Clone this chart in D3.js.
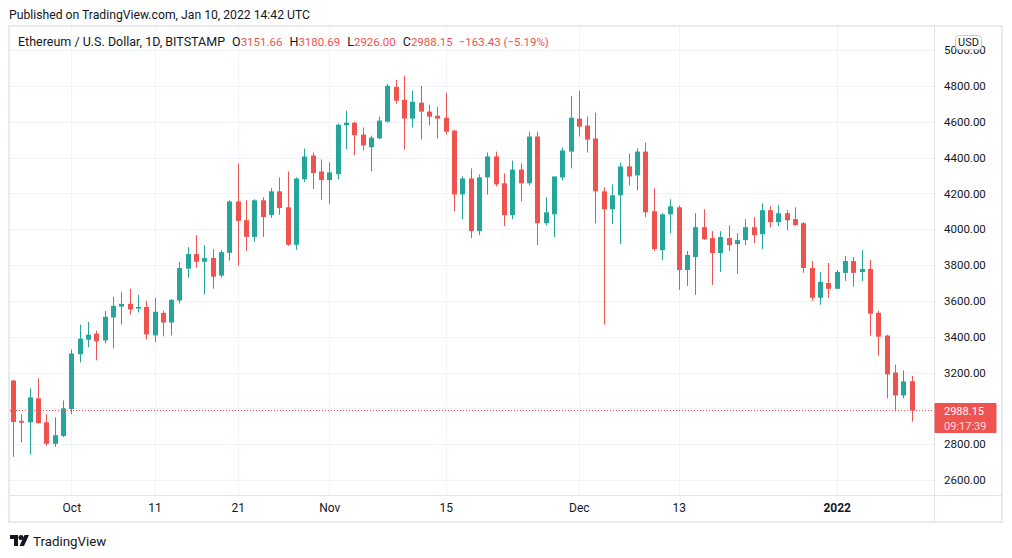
<!DOCTYPE html>
<html>
<head>
<meta charset="utf-8">
<script src="https://cdn.jsdelivr.net/npm/d3@7"></script>
<style>
  body { margin: 0; background: #fff; }
  svg { display: block; font-family: Roboto, "Noto Sans", sans-serif; }
</style>
</head>
<body>
<script>
// ETH/USD daily candles, Sep 24 2021 -> Jan 10 2022
var startDate = "2021-09-24";
var opens = [3155,2930,2922,3056,2922,2802,2846,
  2996,3302,3383,3417,3379,3507,3568,3583,3557,3566,3407,3533,3479,3602,3780,3861,3818,3839,3741,3868,4155,4050,3957,4161,4079,4211,4122,3913,4279,4411,4322,
  4274,4307,4580,4594,4528,4457,4507,4600,4794,4722,4617,4706,4656,4633,4622,4550,4194,4283,3989,4289,4406,4256,4078,4333,4256,4517,4033,4083,4289,4433,
  4617,4578,4506,4211,4111,4189,4350,4300,4433,4100,3883,4083,4122,3772,3844,4011,3950,3867,3950,3917,3939,4011,3972,4106,4039,4089,4056,4033,3783,3617,3700,
  3667,3756,3822,3761,3778,3533,3406,3200,3072,3151.66];
var highs = [3160,2967,3111,3167,2967,2950,3044,
  3328,3467,3483,3433,3544,3622,3650,3667,3633,3600,3617,3544,3610,3817,3900,3967,3911,3889,3883,4161,4367,4161,4167,4178,4228,4289,4322,4289,4450,4428,4389,
  4372,4589,4661,4600,4568,4522,4628,4811,4833,4856,4772,4800,4694,4683,4761,4555,4294,4339,4306,4428,4433,4311,4383,4367,4544,4544,4178,4294,4456,4744,
  4772,4628,4650,4233,4250,4372,4422,4450,4483,4228,4089,4167,4133,3878,4089,4111,3989,3989,4022,3978,4056,4067,4144,4128,4133,4106,4122,4040,3822,3761,3811,
  3772,3850,3844,3883,3828,3544,3411,3244,3211,3180.69];
var lows = [2729,2810,2741,2915,2791,2785,2840,
  2968,3257,3341,3268,3363,3335,3468,3524,3535,3385,3368,3402,3407,3585,3729,3785,3635,3668,3730,3824,3796,3879,3930,3957,4063,4079,3907,3885,4263,4224,4163,
  4141,4279,4446,4413,4440,4324,4502,4595,4700,4444,4567,4500,4578,4506,4528,4100,4056,3950,3967,4194,4239,4017,4056,4156,4244,3911,4022,3956,4272,4339,
  4517,4428,4033,3467,4028,3917,4244,4217,4067,3878,3828,3978,3661,3683,3633,3940,3689,3761,3878,3750,3911,3922,3889,4011,4017,3994,4020,3756,3600,3578,3617,
  3667,3711,3678,3711,3406,3294,3056,2983,3056,2926];
var closes = [2924,2920,3061,2918,2802,2850,3000,
  3306,3389,3411,3374,3511,3572,3583,3552,3566,3413,3539,3479,3605,3783,3861,3818,3839,3735,3872,4155,4046,3957,4161,4068,4211,4118,3913,4283,4405,4313,4274,
  4317,4583,4594,4524,4468,4511,4606,4800,4717,4617,4711,4656,4628,4617,4544,4194,4283,3989,4289,4406,4250,4078,4333,4256,4517,4033,4094,4294,4439,4622,
  4572,4500,4211,4111,4189,4350,4294,4433,4094,3889,4083,4128,3772,3856,4011,3944,3867,3956,3911,3939,4011,3967,4106,4039,4089,4050,4022,3783,3617,3706,3667,
  3761,3822,3756,3778,3528,3400,3189,3072,3150,2988.15];

// axis ticks
var priceTicks = [2600,2800,3000,3200,3400,3600,3800,4000,4200,4400,4600,4800,5000];
var timeTicks = ["2021-10-01","2021-10-11","2021-10-21","2021-11-01","2021-11-15","2021-12-01","2021-12-13","2022-01-01"];
var timeLabels = ["Oct","11","21","Nov","15","Dec","13","2022"];

var lastPrice = 2988.15;

var W = 1012, H = 558;
var plot = { left: 10, right: 934, top: 27, bottom: 495 };
var green = "#26a69a", red = "#ef5350", ink = "#131722";

var parse = d3.utcParse("%Y-%m-%d");
var t0 = parse(startDate);
var data = opens.map(function(o, i) {
  return { date: d3.utcDay.offset(t0, i), o: o, h: highs[i], l: lows[i], c: closes[i] };
});

var x = d3.scaleUtc()
  .domain([t0, data[data.length - 1].date])
  .range([13.1, 911.6]);

var y = d3.scaleLinear()
  .domain([2600, 5000])
  .range([480, 50]);

var svg = d3.select("body").append("svg")
  .attr("width", W)
  .attr("height", H);

svg.append("rect").attr("width", W).attr("height", H).attr("fill", "#fff");

svg.append("defs").append("clipPath").attr("id", "plotclip")
  .append("rect")
  .attr("x", plot.left).attr("y", plot.top)
  .attr("width", plot.right - plot.left).attr("height", plot.bottom - plot.top);

// header line
svg.append("text")
  .attr("x", 9).attr("y", 19)
  .attr("fill", ink)
  .style("font-size", "12.2px")
  .text("Published on TradingView.com, Jan 10, 2022 14:42 UTC");

// grid
var grid = svg.append("g").attr("clip-path", "url(#plotclip)");
grid.selectAll(".hgrid")
  .data(priceTicks)
  .enter().append("line")
  .attr("x1", plot.left).attr("x2", plot.right)
  .attr("y1", function(d) { return Math.round(y(d)) + 0.5; })
  .attr("y2", function(d) { return Math.round(y(d)) + 0.5; })
  .attr("stroke", "#f0f3fa");
grid.selectAll(".vgrid")
  .data(timeTicks)
  .enter().append("line")
  .attr("y1", plot.top).attr("y2", plot.bottom)
  .attr("x1", function(d) { return Math.round(x(parse(d))) + 0.5; })
  .attr("x2", function(d) { return Math.round(x(parse(d))) + 0.5; })
  .attr("stroke", "#f0f3fa");

// candles
var candles = svg.append("g").attr("clip-path", "url(#plotclip)");
var bw = 5;
var cg = candles.selectAll(".candle")
  .data(data)
  .enter().append("g");
cg.append("line")
  .attr("x1", function(d) { return Math.round(x(d.date)) + 0.5; })
  .attr("x2", function(d) { return Math.round(x(d.date)) + 0.5; })
  .attr("y1", function(d) { return y(d.h); })
  .attr("y2", function(d) { return y(d.l); })
  .attr("stroke", function(d) { return d.c >= d.o ? green : red; })
  .attr("stroke-width", 1);
cg.append("rect")
  .attr("x", function(d) { return Math.round(x(d.date)) + 0.5 - bw / 2; })
  .attr("width", bw)
  .attr("y", function(d) { return y(Math.max(d.o, d.c)); })
  .attr("height", function(d) { return Math.max(1, Math.abs(y(d.o) - y(d.c))); })
  .attr("fill", function(d) { return d.c >= d.o ? green : red; });

// last price dotted line
svg.append("line")
  .attr("x1", plot.left).attr("x2", plot.right)
  .attr("y1", y(lastPrice)).attr("y2", y(lastPrice))
  .attr("stroke", red)
  .attr("stroke-width", 1)
  .attr("stroke-dasharray", "1,2");

// frame and axis separators
svg.append("rect")
  .attr("x", 9).attr("y", 26)
  .attr("width", 993).attr("height", 496)
  .attr("fill", "none")
  .attr("stroke", "#e9ebf0")
  .attr("stroke-width", 2);
svg.append("line")
  .attr("x1", plot.right + 0.5).attr("x2", plot.right + 0.5)
  .attr("y1", 26).attr("y2", 522)
  .attr("stroke", "#e0e3eb");
svg.append("line")
  .attr("x1", 9).attr("x2", 1002)
  .attr("y1", plot.bottom + 0.5).attr("y2", plot.bottom + 0.5)
  .attr("stroke", "#e0e3eb");

// price axis (labels under the last-price box are hidden, as on the chart)
var axisTicks = priceTicks.filter(function(d) { return Math.abs(y(d) - y(lastPrice)) > 16; });
var yAxis = svg.append("g")
  .attr("transform", "translate(" + (plot.right + 10) + ",0)")
  .call(d3.axisRight(y).tickValues(axisTicks).tickSize(0).tickPadding(0)
    .tickFormat(function(d) { return d3.format(".2f")(d); }));
yAxis.select(".domain").remove();
yAxis.selectAll("text")
  .attr("fill", ink)
  .style("font-size", "11.5px")
  .style("font-family", "Roboto, sans-serif");

// time axis
var xAxis = svg.append("g")
  .attr("transform", "translate(0," + (plot.bottom + 8) + ")")
  .call(d3.axisBottom(x).tickValues(timeTicks.map(parse)).tickSize(0).tickPadding(0)
    .tickFormat(function(d, i) { return timeLabels[i]; }));
xAxis.select(".domain").remove();
xAxis.selectAll("text")
  .attr("fill", ink)
  .style("font-size", "12px")
  .style("font-family", "Roboto, sans-serif")
  .style("font-weight", function(d, i) { return timeLabels[i] === "2022" ? "bold" : "normal"; });

// legend
var legend = svg.append("text")
  .attr("x", 18).attr("y", 46)
  .style("font-size", "12.5px");
legend.append("tspan").attr("fill", ink).text("Ethereum / U.S. Dollar, 1D, BITSTAMP");
var ohlc = [["O", "3151.66"], ["H", "3180.69"], ["L", "2926.00"], ["C", "2988.15"]];
ohlc.forEach(function(p, i) {
  legend.append("tspan").attr("fill", ink).attr("dx", 7).text(p[0]);
  legend.append("tspan").attr("fill", red).style("font-size", "11.5px").text(p[1]);
});
legend.append("tspan").attr("fill", red).attr("dx", 6).style("font-size", "11.5px")
  .text("\u2212163.43 (\u22125.19%)");

// USD badge
svg.append("rect")
  .attr("x", 955.5).attr("y", 35.5)
  .attr("width", 26).attr("height", 14).attr("rx", 3)
  .attr("fill", "#fff").attr("stroke", "#c8cbd3");
svg.append("text")
  .attr("x", 968.5).attr("y", 46)
  .attr("text-anchor", "middle")
  .attr("fill", ink)
  .style("font-size", "11px")
  .text("USD");

// last price label
svg.append("rect")
  .attr("x", plot.right + 0.5).attr("y", 403)
  .attr("width", 62).attr("height", 30)
  .attr("rx", 1)
  .attr("fill", red);
svg.append("text")
  .attr("x", 944).attr("y", 415)
  .attr("fill", "#fff")
  .style("font-size", "11px")
  .text(d3.format(".2f")(lastPrice));
svg.append("text")
  .attr("x", 944).attr("y", 429.5)
  .attr("fill", "#fff").attr("fill-opacity", 0.8)
  .style("font-size", "11px")
  .text("09:17:39");

// TradingView logo
var logo = svg.append("g").attr("transform", "translate(10,535)").attr("fill", ink);
logo.append("path").attr("d", "M0,0 H8 V11 H4 V4 H0 Z");
logo.append("circle").attr("cx", 11).attr("cy", 2.5).attr("r", 2.5);
logo.append("path").attr("d", "M14.5,0 H19 L14,11 H9.5 Z");
svg.append("text")
  .attr("x", 33).attr("y", 546)
  .attr("fill", ink)
  .style("font-size", "13.3px")
  .text("TradingView");
</script>
</body>
</html>
